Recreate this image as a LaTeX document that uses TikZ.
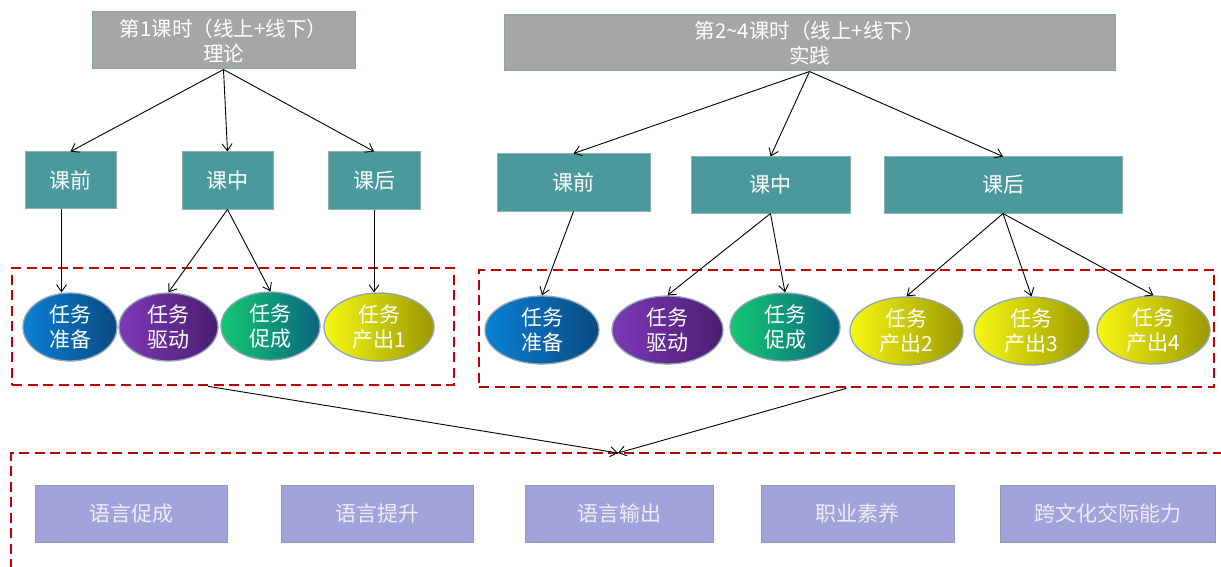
\documentclass[tikz,border=0pt]{standalone}
\usepackage{fontspec}
\setmainfont{Noto Sans CJK SC}
\usetikzlibrary{arrows.meta,shapes.geometric}
\definecolor{topgray}{HTML}{A6A6A6}
\definecolor{topedge}{HTML}{8AA5A5}
\definecolor{tealfill}{HTML}{4A999C}
\definecolor{tealedge}{HTML}{8FB0B0}
\definecolor{elledge}{HTML}{8FA5B5}
\definecolor{dred}{HTML}{C00000}
\definecolor{lavfill}{HTML}{A3A3DC}
\definecolor{lavedge}{HTML}{8E9CB0}
\definecolor{lavtext}{HTML}{EDEDF5}
\definecolor{blueL}{HTML}{0A80D5}
\definecolor{blueR}{HTML}{0A4A80}
\definecolor{purpL}{HTML}{7E38B8}
\definecolor{purpR}{HTML}{4A1E6E}
\definecolor{greenL}{HTML}{14C873}
\definecolor{greenR}{HTML}{0A6480}
\definecolor{yelL}{HTML}{F8F814}
\definecolor{yelR}{HTML}{9A9800}
\begin{document}
\begin{tikzpicture}[x=1pt,y=-1pt,
  topbox/.style={draw=topedge, line width=1pt, fill=topgray, text=white, align=center, inner sep=0pt,
    font=\fontsize{20.5}{25}\selectfont},
  tealbox/.style={draw=tealedge, line width=1pt, fill=tealfill, text=white, inner sep=0pt,
    font=\fontsize{21}{24}\selectfont},
  ell/.style={ellipse, draw=elledge, line width=1.3pt, inner sep=0pt, text=white, align=center,
    minimum height=68pt, font=\fontsize{21}{24.5}\selectfont},
  lavbox/.style={draw=lavedge, line width=1pt, fill=lavfill, text=lavtext, inner sep=0pt,
    minimum height=57pt, font=\fontsize{21}{24}\selectfont},
  dbox/.style={draw=dred, line width=2.6pt, dash pattern=on 10pt off 5.5pt},
  arr/.style={-{Straight Barb[length=7pt,width=10pt]}, line width=0.9pt, black}
]
\useasboundingbox (0,0) rectangle (1221,567);
\clip (0,0) rectangle (1221,567);
\fill[white] (0,0) rectangle (1221,567);

% dashed groups
\node[dbox, minimum width=442pt, minimum height=117pt, inner sep=0pt] (DL) at (233,326.5) {};
\node[dbox, minimum width=735pt, minimum height=117pt, inner sep=0pt] (DR) at (846.5,328.5) {};
\draw[dbox] (11,600) -- (11,453) -- (1240,453);
\coordinate (M) at (618,453);

% top boxes
\node[topbox, minimum width=263pt, minimum height=57pt] (T1) at (223.5,40.5) {第1课时（线上+线下）\\理论};
\node[topbox, minimum width=611pt, minimum height=56pt] (T2) at (809.5,43) {第2\textasciitilde4课时（线上+线下）\\实践};

% teal boxes
\node[tealbox, minimum width=91pt, minimum height=56pt] (L1) at (70.5,180) {课前};
\node[tealbox, minimum width=91pt, minimum height=57pt] (L2) at (227.5,180.5) {课中};
\node[tealbox, minimum width=92pt, minimum height=57pt] (L3) at (374,180.5) {课后};
\node[tealbox, minimum width=153pt, minimum height=57pt] (R1) at (573.5,182.5) {课前};
\node[tealbox, minimum width=159pt, minimum height=56pt] (R2) at (770.5,185) {课中};
\node[tealbox, minimum width=238pt, minimum height=56pt] (R3) at (1003,185) {课后};

% ellipses
\node[ell, minimum width=94pt, left color=blueL, right color=blueR] (E1) at (70,327) {任务\\准备};
\node[ell, minimum width=99pt, left color=purpL, right color=purpR] (E2) at (168.5,327) {任务\\驱动};
\node[ell, minimum width=99pt, left color=greenL, right color=greenR] (E3) at (270.5,326) {任务\\促成};
\node[ell, minimum width=110pt, left color=yelL, right color=yelR] (E4) at (379,327) {任务\\产出1};
\node[ell, minimum width=114pt, left color=blueL, right color=blueR] (F1) at (542,330) {任务\\准备};
\node[ell, minimum width=111pt, left color=purpL, right color=purpR] (F2) at (667.5,330) {任务\\驱动};
\node[ell, minimum width=110pt, left color=greenL, right color=greenR] (F3) at (785,327) {任务\\促成};
\node[ell, minimum width=113pt, left color=yelL, right color=yelR] (F4) at (906.5,331) {任务\\产出2};
\node[ell, minimum width=115pt, left color=yelL, right color=yelR] (F5) at (1031.5,331) {任务\\产出3};
\node[ell, minimum width=113pt, left color=yelL, right color=yelR] (F6) at (1153.5,330) {任务\\产出4};

% bottom boxes
\node[lavbox, minimum width=192pt] (B1) at (131,513.5) {语言促成};
\node[lavbox, minimum width=192pt] (B2) at (377,513.5) {语言提升};
\node[lavbox, minimum width=188pt] (B3) at (619,513.5) {语言输出};
\node[lavbox, minimum width=193pt] (B4) at (857.5,513.5) {职业素养};
\node[lavbox, minimum width=215pt] (B5) at (1107.5,513.5) {跨文化交际能力};

% connectors
\draw[arr] (T1.south) -- (L1.north);
\draw[arr] (T1.south) -- (L2.north);
\draw[arr] (T1.south) -- (L3.north);
\draw[arr] (T2.south) -- (R1.north);
\draw[arr] (T2.south) -- (R2.north);
\draw[arr] (T2.south) -- (R3.north);

\draw[arr] ([xshift=-9pt]L1.south) -- ([xshift=-9pt]L1.south |- E1.north);
\draw[arr] (L2.south) -- (E2.north);
\draw[arr] (L2.south) -- (E3.north);
\draw[arr] (L3.south) -- (L3.south |- E4.north);
\draw[arr] (R1.south) -- (F1.north);
\draw[arr] (R2.south) -- (F2.north);
\draw[arr] (R2.south) -- (F3.north);
\draw[arr] (R3.south) -- (F4.north);
\draw[arr] (R3.south) -- (F5.north);
\draw[arr] (R3.south) -- (F6.north);

\draw[arr] ([xshift=-25pt]DL.south) -- (M);
\draw[arr] (DR.south) -- (M);
\end{tikzpicture}
\end{document}
